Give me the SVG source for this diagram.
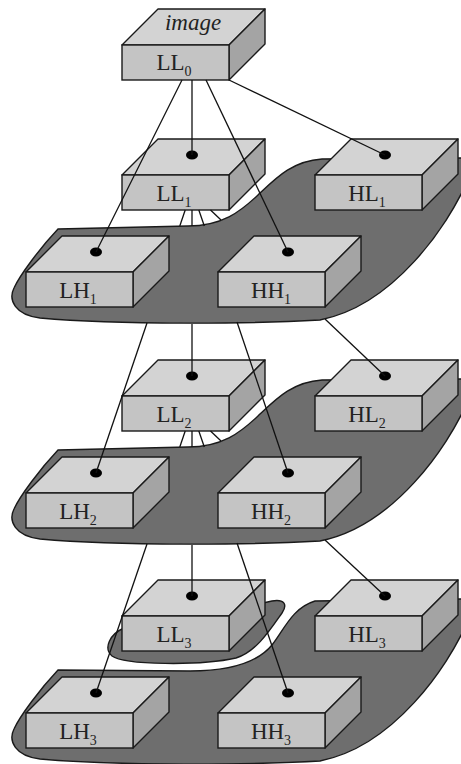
<svg xmlns="http://www.w3.org/2000/svg" xmlns:xlink="http://www.w3.org/1999/xlink" width="461" height="764" viewBox="0 0 461 764">
<style>
.blob{fill:#6e6e6e;stroke:#1a1a1a;stroke-width:1.4}
.top{fill:#d3d3d3;stroke:#1a1a1a;stroke-width:1.4;stroke-linejoin:round}
.side{fill:#a4a4a4;stroke:#1a1a1a;stroke-width:1.4;stroke-linejoin:round}
.front{fill:#c4c4c4;stroke:#1a1a1a;stroke-width:1.4}
.lbl{font-family:"Liberation Serif","Times New Roman",serif;font-size:23px;fill:#222;text-anchor:middle}
.sub{font-size:14px}
.dot{fill:#000}
.conn line{stroke:#111;stroke-width:1.3;fill:none}
</style>
<defs>
<g id="box">
<polygon class="top" points="0,0 36,-36 143,-36 107,0"/>
<polygon class="side" points="107,0 143,-36 143,-1 107,35"/>
<rect class="front" x="0" y="0" width="107" height="35"/>
</g>
</defs>
<rect width="461" height="764" fill="#fff"/>
<g id="regions">
<path id="region1" class="blob" d="M58,229 L188,226 C222,226 240,212 258,195 C276,178 292,161 322,159 L466,158 L466,184 C448,224 395,305 320,320 C250,324 120,325 40,318 C15,315 8,300 14,288 C20,275 40,248 58,229 Z"/>
<path id="region2" class="blob" d="M58,450 L188,447 C222,447 240,433 258,416 C276,399 292,382 322,380 L466,379 L466,405 C448,445 395,526 320,541 C250,545 120,546 40,539 C15,536 8,521 14,509 C20,496 40,469 58,450 Z"/>
<path id="region3" class="blob" d="M58,670 L190,671 C230,671 258,662 272,645 C284,630 292,608 315,601 L466,599 L466,625 C448,665 395,746 320,761 C250,765 120,766 40,759 C15,756 8,741 14,729 C20,716 40,689 58,670 Z"/>
<path id="region3-ll" class="blob" d="M124,628 C110,634 103,648 112,656 C124,665 200,666 236,658 C256,652 270,630 282,613 C288,604 284,599 272,601 L250,606 Z"/>
</g>
<g id="LL0">
<use xlink:href="#box" x="122" y="45"/>
<text class="lbl" x="193" y="30" font-style="italic">image</text>
<text class="lbl" x="174" y="70">LL<tspan class="sub" dy="6">0</tspan></text>
</g>
<g id="LL1">
<use xlink:href="#box" x="122" y="175"/>
<ellipse class="dot" cx="192" cy="155" rx="6" ry="4.5"/>
<text class="lbl" x="174" y="201">LL<tspan class="sub" dy="6">1</tspan></text>
</g>
<g id="HL1">
<use xlink:href="#box" x="315" y="175"/>
<ellipse class="dot" cx="385" cy="155" rx="6" ry="4.5"/>
<text class="lbl" x="367" y="201">HL<tspan class="sub" dy="6">1</tspan></text>
</g>
<g id="LH1">
<use xlink:href="#box" x="26" y="272"/>
<ellipse class="dot" cx="96" cy="252" rx="6" ry="4.5"/>
<text class="lbl" x="78" y="298">LH<tspan class="sub" dy="6">1</tspan></text>
</g>
<g id="HH1">
<use xlink:href="#box" x="218" y="272"/>
<ellipse class="dot" cx="288" cy="252" rx="6" ry="4.5"/>
<text class="lbl" x="271" y="298">HH<tspan class="sub" dy="6">1</tspan></text>
</g>
<g id="LL2">
<use xlink:href="#box" x="122" y="396"/>
<ellipse class="dot" cx="192" cy="376" rx="6" ry="4.5"/>
<text class="lbl" x="174" y="422">LL<tspan class="sub" dy="6">2</tspan></text>
</g>
<g id="HL2">
<use xlink:href="#box" x="315" y="396"/>
<ellipse class="dot" cx="385" cy="376" rx="6" ry="4.5"/>
<text class="lbl" x="367" y="422">HL<tspan class="sub" dy="6">2</tspan></text>
</g>
<g id="LH2">
<use xlink:href="#box" x="26" y="493"/>
<ellipse class="dot" cx="96" cy="473" rx="6" ry="4.5"/>
<text class="lbl" x="78" y="519">LH<tspan class="sub" dy="6">2</tspan></text>
</g>
<g id="HH2">
<use xlink:href="#box" x="218" y="493"/>
<ellipse class="dot" cx="288" cy="473" rx="6" ry="4.5"/>
<text class="lbl" x="271" y="519">HH<tspan class="sub" dy="6">2</tspan></text>
</g>
<g id="LL3">
<use xlink:href="#box" x="122" y="616"/>
<ellipse class="dot" cx="192" cy="596" rx="6" ry="4.5"/>
<text class="lbl" x="174" y="642">LL<tspan class="sub" dy="6">3</tspan></text>
</g>
<g id="HL3">
<use xlink:href="#box" x="315" y="616"/>
<ellipse class="dot" cx="385" cy="596" rx="6" ry="4.5"/>
<text class="lbl" x="367" y="642">HL<tspan class="sub" dy="6">3</tspan></text>
</g>
<g id="LH3">
<use xlink:href="#box" x="26" y="713"/>
<ellipse class="dot" cx="96" cy="693" rx="6" ry="4.5"/>
<text class="lbl" x="78" y="739">LH<tspan class="sub" dy="6">3</tspan></text>
</g>
<g id="HH3">
<use xlink:href="#box" x="218" y="713"/>
<ellipse class="dot" cx="288" cy="693" rx="6" ry="4.5"/>
<text class="lbl" x="271" y="739">HH<tspan class="sub" dy="6">3</tspan></text>
</g>
<g id="connectors" class="conn">
<line x1="182" y1="80" x2="96" y2="252"/>
<line x1="192" y1="80" x2="192" y2="155"/>
<line x1="206" y1="80" x2="288" y2="252"/>
<line x1="229" y1="80" x2="385" y2="155"/>
<line x1="185.2" y1="210" x2="179.8" y2="226"/>
<line x1="147" y1="323" x2="96" y2="473"/>
<line x1="192" y1="210" x2="192" y2="226"/>
<line x1="192" y1="324" x2="192" y2="376"/>
<line x1="198.8" y1="210" x2="204.3" y2="226"/>
<line x1="237" y1="322" x2="288" y2="473"/>
<line x1="210.5" y1="210" x2="221" y2="220"/>
<line x1="325" y1="319" x2="385" y2="376"/>
<line x1="185.2" y1="431" x2="179.8" y2="447"/>
<line x1="147" y1="544" x2="96" y2="693"/>
<line x1="192" y1="431" x2="192" y2="447"/>
<line x1="192" y1="545" x2="192" y2="596"/>
<line x1="198.8" y1="431" x2="204.3" y2="447"/>
<line x1="237" y1="543" x2="288" y2="693"/>
<line x1="210.5" y1="431" x2="221" y2="441"/>
<line x1="325" y1="540" x2="385" y2="596"/>
</g>
</svg>
